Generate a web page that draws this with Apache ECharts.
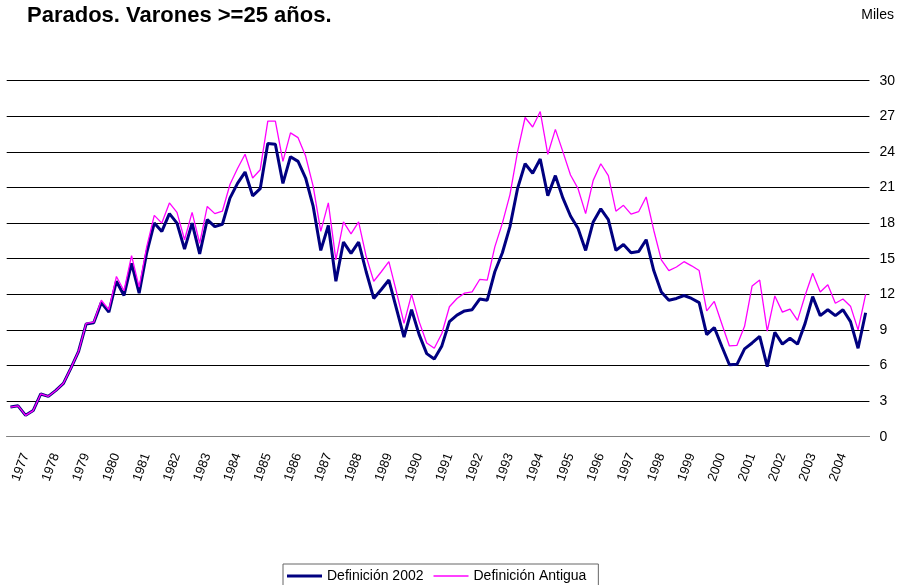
<!DOCTYPE html>
<html>
<head>
<meta charset="utf-8">
<script src="https://cdn.jsdelivr.net/npm/echarts@6/dist/echarts.min.js"></script>
<style>
html,body{margin:0;padding:0;background:#fff;}
#chart{width:898px;height:585px;}
</style>
</head>
<body>
<div id="chart"></div>
<script>
// Years (each year has 4 quarterly observations; series runs 1977 T1 .. 2005 T2)
var years = ['1977','1978','1979','1980','1981','1982','1983','1984','1985','1986',
             '1987','1988','1989','1990','1991','1992','1993','1994','1995','1996',
             '1997','1998','1999','2000','2001','2002','2003','2004','2005'];
var quarters = ['T1','T2','T3','T4'];

// Parados, varones >= 25 años (miles) - Definición 2002
var def2002 = [
  2.5, 2.6, 1.8, 2.2,   3.6, 3.4, 3.9, 4.5,   5.8, 7.2, 9.5, 9.6,
  11.3, 10.5, 13.1, 11.9,   14.6, 12.1, 15.5, 18.0,   17.3, 18.8, 18.0, 15.8,
  18.0, 15.4, 18.3, 17.7,   17.9, 20.1, 21.35, 22.3,   20.3, 20.9, 24.7, 24.65,
  21.35, 23.6, 23.2, 21.8,   19.4, 15.7, 17.8, 13.1,   16.4, 15.45, 16.4, 13.9,
  11.65, 12.4, 13.2, 10.8,   8.4, 10.7, 8.6, 7.0,   6.55, 7.65, 9.7, 10.25,
  10.6, 10.7, 11.6, 11.5,   13.9, 15.5, 17.7, 20.9,   23.0, 22.2, 23.4, 20.3,
  22.0, 20.1, 18.6, 17.55,   15.7, 18.1, 19.2, 18.3,   15.7, 16.2, 15.5, 15.6,
  16.6, 14.0, 12.2, 11.5,   11.65, 11.9, 11.65, 11.3,   8.6, 9.2, 7.6, 6.06,
  6.1, 7.4, 7.9, 8.45,   5.9, 8.8, 7.8, 8.3,   7.8, 9.55, 11.8, 10.2,
  10.7, 10.2, 10.7, 9.7,   7.45, 10.45
];

// Definición Antigua
var defAntigua = [
  2.5, 2.6, 1.8, 2.2,   3.6, 3.4, 3.9, 4.5,   5.8, 7.2, 9.55, 9.65,
  11.5, 10.7, 13.5, 12.3,   15.25, 12.6, 16.0, 18.65,   18.0, 19.7, 18.9, 16.6,
  18.9, 16.3, 19.4, 18.8,   19.0, 21.25, 22.6, 23.8,   21.8, 22.5, 26.6, 26.6,
  23.2, 25.6, 25.2, 23.65,   21.1, 17.3, 19.7, 14.9,   18.1, 17.1, 18.1, 15.2,
  13.1, 13.9, 14.75, 12.2,   9.55, 12.0, 9.7, 7.9,   7.45, 8.7, 10.95, 11.65,
  12.1, 12.2, 13.25, 13.2,   16.0, 18.0, 20.4, 24.0,   26.9, 26.1, 27.4, 23.8,
  25.9, 24.0, 22.05, 20.9,   18.8, 21.6, 23.0, 22.0,   19.0, 19.5, 18.75, 18.96,
  20.2, 17.4, 14.9, 14.0,   14.3, 14.75, 14.4, 14.0,   10.6, 11.4, 9.5, 7.65,
  7.7, 9.3, 12.7, 13.2,   8.9, 11.86, 10.5, 10.75,   9.8, 11.9, 13.77, 12.2,
  12.8, 11.25, 11.6, 11.0,   9.0, 12.0
];

var yTicks = {min: 0, max: 30, step: 3};
var seriesNames = ['Definición 2002', 'Definición Antigua'];
var titleText = 'Parados. Varones >=25 años.';
var unitText = 'Miles';

// Build quarterly category list from years
var categories = [];
for (var y = 0; y < years.length; y++) {
  for (var q = 0; q < quarters.length; q++) {
    if (categories.length < def2002.length) categories.push(years[y] + ' ' + quarters[q]);
  }
}

var FONT = '"Liberation Sans", Arial, sans-serif';
var chart = echarts.init(document.getElementById('chart'), null, {renderer: 'canvas'});
chart.setOption({
  animation: false,
  backgroundColor: '#fff',
  textStyle: {fontFamily: FONT},
  title: {
    text: titleText,
    left: 27, top: 5, padding: 0,
    textStyle: {fontFamily: FONT, fontSize: 22, fontWeight: 'bold', color: '#000'}
  },
  graphic: [{
    type: 'text', right: 4, top: 8,
    style: {text: unitText, font: '14px ' + FONT, fill: '#000'}
  }],
  legend: {
    data: [
      {name: seriesNames[0], icon: 'path://M0,0H35V3H0Z'},
      {name: seriesNames[1], icon: 'path://M0,0H35V1.3H0Z'}
    ],
    left: 283, top: 564,
    orient: 'horizontal',
    padding: [5, 12, 5, 4],
    itemWidth: 35, itemHeight: 14, itemGap: 10,
    borderColor: '#666', borderWidth: 1,
    textStyle: {fontFamily: FONT, fontSize: 14, color: '#000'}
  },
  grid: {left: 6.7, right: 26.1, top: 80.7, bottom: 148.3, containLabel: false},
  xAxis: {
    type: 'category',
    data: categories,
    boundaryGap: true,
    axisLine: {lineStyle: {color: '#808080', width: 1}},
    axisTick: {interval: 3, length: 4, lineStyle: {color: '#808080'}},
    axisLabel: {
      interval: function (idx) { return idx % 4 === 2; },
      rotate: 70, margin: 17,
      fontFamily: FONT, fontSize: 13, color: '#000',
      formatter: function (v) { return v.slice(0, 4); }
    },
    splitLine: {show: false}
  },
  yAxis: {
    type: 'value', position: 'right',
    min: yTicks.min, max: yTicks.max, interval: yTicks.step,
    axisLine: {show: false}, axisTick: {show: false},
    axisLabel: {margin: 10, fontFamily: FONT, fontSize: 14, color: '#000'},
    splitLine: {lineStyle: {color: '#000', width: 1}}
  },
  series: [
    {
      name: seriesNames[0], type: 'line', data: def2002,
      symbol: 'none', showSymbol: false,
      lineStyle: {color: '#000080', width: 3},
      itemStyle: {color: '#000080'}
    },
    {
      name: seriesNames[1], type: 'line', data: defAntigua,
      symbol: 'none', showSymbol: false,
      lineStyle: {color: '#FF00FF', width: 1.3},
      itemStyle: {color: '#FF00FF'}
    }
  ]
});
</script>
</body>
</html>
